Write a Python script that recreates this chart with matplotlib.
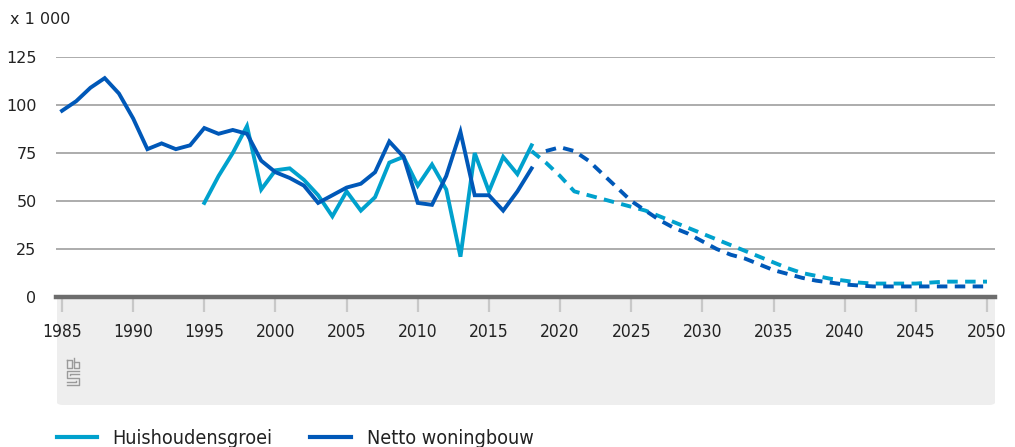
import matplotlib
matplotlib.use("Agg")
import matplotlib.pyplot as plt
from matplotlib.patches import FancyBboxPatch
from matplotlib.lines import Line2D

# ---- data ----
years_hh = list(range(1995, 2019))
huishoudensgroei = [49, 63, 75, 89, 56, 66, 67, 61, 53, 42, 55, 45, 52, 70, 73,
                    58, 69, 56, 21, 75, 55, 73, 64, 79]
years_hh_proj = list(range(2018, 2051))
huishoudensgroei_proj = [76, 70, 63, 55, 53, 51, 49, 47, 45, 42, 39, 36, 33, 30, 27,
                         24, 21, 18, 15, 12.5, 11, 9.5, 8.5, 7.5, 7, 7, 7, 7,
                         7.5, 8, 8, 8, 8]
years_nw = list(range(1985, 2019))
netto_woningbouw = [97, 102, 109, 114, 106, 93, 77, 80, 77, 79, 88, 85, 87, 85, 71,
                    65, 62, 58, 49, 53, 57, 59, 65, 81, 73, 49, 48, 63, 86, 53,
                    53, 45, 55, 67]
years_nw_proj = list(range(2019, 2051))
netto_woningbouw_proj = [76, 78, 76, 71, 64, 57, 50, 45, 40, 36, 33, 29, 25, 22, 20,
                         17, 14, 12, 10, 8.5, 7.5, 6.5, 6, 5.5, 5.5, 5.5, 5.5, 5.5,
                         5.5, 5.5, 5.5, 5.5]
x_ticks = list(range(1985, 2051, 5))
y_ticks = [0, 25, 50, 75, 100, 125]
legend_labels = ["Huishoudensgroei", "Netto woningbouw"]

C_LIGHT = "#00a1cd"
C_DARK = "#0058b8"
NARROW = dict(fontfamily="DejaVu Sans", fontstretch="condensed")

W, H = 1015, 447
fig = plt.figure(figsize=(W / 100, H / 100), dpi=100)

def fx(px):
    return px / W

def fy(py):
    return 1 - py / H

# gray panel under the axis
panel = FancyBboxPatch((fx(57), fy(405)), fx(995) - fx(57), fy(297) - fy(405),
                       boxstyle="round,pad=0,rounding_size=0.006",
                       transform=fig.transFigure, facecolor="#eeeeee",
                       edgecolor="none", zorder=-5)
fig.patches.append(panel)

ax = fig.add_axes([fx(56), fy(297), fx(995) - fx(56), fy(57) - fy(297)])
ax.set_zorder(2)
ax.set_facecolor("none")
x0 = 1985 - 6 / 14.23
x1 = 2050 + 8 / 14.23
ax.set_xlim(x0, x1)
ax.set_ylim(0, 125)

for yv in y_ticks[1:]:
    ax.axhline(yv, color="#a6a6a6", lw=1.3, zorder=1)
ax.axhline(0, color="#6d6d6d", lw=3.2, zorder=3, clip_on=False)

lw = 2.8
ax.plot(years_hh, huishoudensgroei, color=C_LIGHT, lw=lw, zorder=4,
        solid_joinstyle="miter", clip_on=False)
ax.plot(years_nw, netto_woningbouw, color=C_DARK, lw=lw, zorder=5,
        solid_joinstyle="miter", clip_on=False)
ax.plot(years_hh_proj, huishoudensgroei_proj, color=C_LIGHT, lw=lw, zorder=4,
        dashes=(2.7, 1.9), clip_on=False)
ax.plot(years_nw_proj, netto_woningbouw_proj, color=C_DARK, lw=lw, zorder=5,
        dashes=(2.7, 1.9), clip_on=False)

for s in ax.spines.values():
    s.set_visible(False)
ax.set_xticks(x_ticks)
ax.set_xticklabels([str(v) for v in x_ticks], fontsize=12.5, color="#222222",
                   **NARROW)
ax.tick_params(axis="x", length=11, width=1.6, color="#c8c8c8", pad=8,
               direction="out")
ax.set_yticks(y_ticks)
ax.set_yticklabels([str(v) for v in y_ticks], fontsize=11.5, color="#222222")
ax.tick_params(axis="y", length=0, pad=14)

fig.text(fx(10), fy(20), "x 1 000", fontsize=11.5, color="#222222",
         ha="left", va="center")

# CBS-like logo glyph
logo_col = "#9a9a9a"
lx, ly = 67, 358
segs = [
    [(lx, ly + 2), (lx + 5, ly + 2), (lx + 5, ly + 10), (lx, ly + 10), (lx, ly + 2)],
    [(lx + 7, ly), (lx + 7, ly + 10), (lx + 12, ly + 10), (lx + 12, ly + 4), (lx + 7, ly + 4)],
    [(lx + 12, ly + 13), (lx, ly + 13), (lx, ly + 20), (lx + 12, ly + 20),
     (lx + 12, ly + 27), (lx, ly + 27)],
    [(lx + 12, ly + 16), (lx + 3, ly + 16), (lx + 3, ly + 17)],
    [(lx, ly + 24), (lx + 9, ly + 24), (lx + 9, ly + 23)],
]
for seg in segs:
    xs = [fx(p[0]) for p in seg]
    ys = [fy(p[1]) for p in seg]
    fig.add_artist(Line2D(xs, ys, transform=fig.transFigure, color=logo_col, lw=1.0))

# legend
legend_y = 437
fig.add_artist(Line2D([fx(57), fx(97)], [fy(legend_y), fy(legend_y)],
                      transform=fig.transFigure, color=C_LIGHT, lw=3))
fig.text(fx(112), fy(legend_y + 2), legend_labels[0], fontsize=14.2,
         color="#222222", ha="left", va="center", **NARROW)
fig.add_artist(Line2D([fx(310), fx(351)], [fy(legend_y), fy(legend_y)],
                      transform=fig.transFigure, color=C_DARK, lw=3))
fig.text(fx(367), fy(legend_y + 2), legend_labels[1], fontsize=14.2,
         color="#222222", ha="left", va="center", **NARROW)

fig.savefig("out.png", dpi=100)
